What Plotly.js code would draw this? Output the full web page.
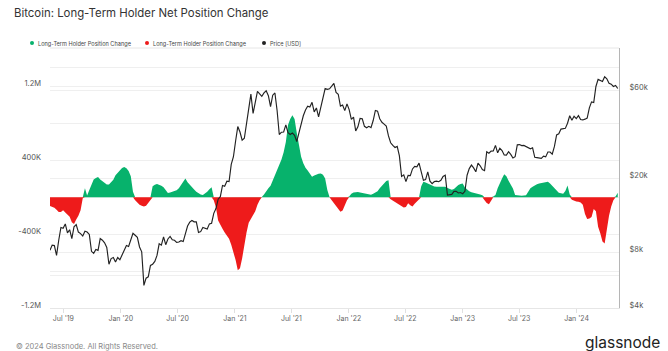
<!DOCTYPE html>
<html>
<head>
<meta charset="utf-8">
<script src="https://cdn.plot.ly/plotly-3.0.1.min.js"></script>
<style>html,body{margin:0;padding:0;background:#fff;}#chart{width:668px;height:351px;}</style>
</head>
<body>
<div id="chart"></div>
<script>
// Weekly samples starting 2019-05-19
const startDate = '2019-05-19';
const sampleCount = 261;

// Long-Term Holder net position change (thousands)
const lthChangeK = [
-95,-105,-112,-135,-160,-160,-140,-165,-185,-210,
-270,-290,-240,-200,-140,-10,100,20,80,140,
195,210,220,195,175,160,140,140,165,190,
240,270,295,318,328,315,285,230,60,-30,
-60,-80,-90,-100,-90,-60,-30,120,138,144,
138,125,110,80,48,52,60,68,78,100,
140,180,205,165,135,110,85,60,42,32,
26,42,62,88,110,-30,-110,-250,-300,-340,
-380,-410,-450,-515,-590,-680,-790,-770,-660,-500,
-380,-275,-230,-190,-150,-80,-30,5,30,70,
100,125,180,240,296,340,410,490,600,784,
850,890,850,700,545,440,370,320,290,255,
224,238,250,255,258,245,205,80,5,-30,
-60,-90,-125,-155,-142,-90,-30,10,40,52,
58,58,52,47,40,33,28,28,40,52,
65,100,130,160,178,185,-20,-35,-45,-58,
-75,-95,-110,-105,-65,-85,-100,-70,-45,-20,
120,168,160,150,135,122,118,115,115,115,
115,114,102,90,82,90,115,135,145,150,
108,85,65,55,50,47,42,32,22,-30,
-60,-75,-35,10,25,100,160,205,250,230,
180,140,95,25,20,18,18,20,22,60,
100,115,130,143,150,155,158,164,170,150,
125,100,70,50,45,40,70,130,30,-25,
-38,-45,-48,-55,-80,-180,-235,-230,-212,-125,
-150,-318,-390,-480,-500,-340,-200,-100,-30,10,
50
];

// BTC price in USD (weekly)
const priceUSD = [
8200,8750,8700,7700,9300,10900,10800,11400,10200,10600,
9500,11000,11300,10300,10100,9800,10400,10300,10000,8100,
7900,8300,8200,9500,9300,9000,8500,6900,7400,7500,
7100,7500,7300,7800,8200,8700,8600,9300,10150,9900,
9650,8550,8050,5300,5800,5900,6800,6900,7150,7700,
8900,8750,9700,8800,9450,9750,9350,9300,9050,9100,
9250,9150,9950,11100,11650,11900,11700,11700,10250,10350,
10900,10750,10700,11400,11500,13000,13800,15500,16000,18400,
18200,19400,19300,23900,26300,32000,38300,35800,32300,33100,
39200,48900,57400,45100,51200,59300,57600,55800,58200,59800,
56200,49100,56600,58200,46800,34700,35700,35800,39100,35500,
34700,35300,34300,31800,35400,39900,43800,47100,49300,48800,
51800,46000,48300,43200,48200,54900,61500,60900,61300,63300,
65500,58600,57300,49400,50100,46700,50800,47300,41900,43100,
36300,38200,42400,42200,38400,37700,38400,37800,41300,46800,
46400,42200,40400,39500,38500,34100,31300,30300,29500,29900,
26600,20600,21000,19300,20850,20800,22600,23300,23200,24300,
21500,19600,19800,21800,19400,18800,19300,19400,19270,19600,
20600,20900,16300,16300,16450,17100,17100,16750,16850,16600,
17100,20900,22700,23700,22900,21800,24300,23500,22400,22100,
28000,27500,28200,28300,30300,27600,29200,28400,26900,26850,
28000,27100,25900,26300,30500,30600,30200,30300,29800,29300,
29050,29400,26100,26000,25900,25800,26500,26250,27900,27900,
27150,29900,34500,35000,37100,37400,37450,39900,43800,41400,
43600,42300,43900,41800,41600,42000,42600,48300,52100,51700,
63100,68900,68300,67200,71300,69400,65700,64900,63100,63900,
61500
];

// Axis ticks
const xTickVals = ['2019-07-01','2020-01-01','2020-07-01','2021-01-01','2021-07-01','2022-01-01','2022-07-01','2023-01-01','2023-07-01','2024-01-01'];
const xTickText = ["Jul '19","Jan '20","Jul '20","Jan '21","Jul '21","Jan '22","Jul '22","Jan '23","Jul '23","Jan '24"];
const yTickVals = [-1200000,-800000,-400000,0,400000,800000,1200000];
const yTickText = ['-1.2M','','-400K','','400K','','1.2M'];
const y2TickVals = [4000,6000,8000,20000,60000,80000];
const y2TickText = ['$4k','','$8k','$20k','$60k',''];

const legendNames = ['Long-Term Holder Position Change','Long-Term Holder Position Change','Price [USD]'];

// build dates
const dates = [];
const d0 = new Date(startDate + 'T00:00:00Z');
for (let i = 0; i < sampleCount; i++) {
  const d = new Date(d0.getTime() + i * 7 * 86400000);
  dates.push(d.toISOString().slice(0,10));
}
const lth = lthChangeK.map(v => v * 1000);
const pos = lth.map(v => v > 0 ? v : 0);
const neg = lth.map(v => v < 0 ? v : 0);

const GREEN = '#07b26c';
const RED = '#ee1b1b';
const BLACK = '#222222';

const traces = [
  {x: dates, y: pos, type: 'scatter', mode: 'lines', line: {width: 0, color: GREEN}, fill: 'tozeroy', fillcolor: GREEN, yaxis: 'y', hoverinfo: 'skip', showlegend: false},
  {x: dates, y: neg, type: 'scatter', mode: 'lines', line: {width: 0, color: RED}, fill: 'tozeroy', fillcolor: RED, yaxis: 'y', hoverinfo: 'skip', showlegend: false},
  {x: dates, y: priceUSD, type: 'scatter', mode: 'lines', line: {width: 1.15, color: BLACK}, yaxis: 'y2', showlegend: false}
];

// pixel helpers (plot area 50..619 x 48..308)
const L = 50, R = 619, T = 48, B = 308;
const px = p => (p - L) / (R - L);
const py = p => (B - p) / (B - T);

const legendFont = {family: 'Inter, sans-serif', size: 5.6, color: '#444'};
const legendItems = [
  {dot: 32, color: GREEN, name: legendNames[0]},
  {dot: 147, color: RED, name: legendNames[1]},
  {dot: 264, color: BLACK, name: legendNames[2]}
];
const shapes = legendItems.map(it => ({
  type: 'circle', xref: 'paper', yref: 'paper',
  x0: px(it.dot - 2), x1: px(it.dot + 2), y0: py(43 + 2), y1: py(43 - 2),
  fillcolor: it.color, line: {width: 0}
}));
shapes.push({type: 'line', xref: 'paper', yref: 'paper', x0: 0, x1: 1, y0: 1, y1: 1, line: {color: '#e6e6e6', width: 1}});

const annotations = legendItems.map(it => ({
  xref: 'paper', yref: 'paper', x: px(it.dot + 4), y: py(43), xanchor: 'left', yanchor: 'middle',
  text: it.name, showarrow: false, font: legendFont
}));
annotations.push({xref: 'paper', yref: 'paper', x: px(14), y: py(346.5), xanchor: 'left', yanchor: 'middle',
  text: '© 2024 Glassnode. All Rights Reserved.', showarrow: false, font: {family: 'Inter, sans-serif', size: 7.5, color: '#888'}});
annotations.push({xref: 'paper', yref: 'paper', x: px(662), y: py(342.5), xanchor: 'right', yanchor: 'middle',
  text: 'glassnode', showarrow: false, font: {family: 'Inter, sans-serif', size: 15.5, color: '#222', weight: 400}});

const layout = {
  width: 668, height: 351,
  margin: {l: L, r: 668 - R, t: T, b: 351 - B, pad: 0},
  paper_bgcolor: '#ffffff', plot_bgcolor: '#ffffff',
  showlegend: false,
  title: {text: 'Bitcoin: Long-Term Holder Net Position Change', x: 14/668, xref: 'container', xanchor: 'left',
    y: 1 - 13/351, yref: 'container', yanchor: 'middle', font: {family: 'Inter, sans-serif', size: 11.4, color: '#333'}},
  xaxis: {type: 'date', range: ['2019-05-19', '2024-05-16'], tickvals: xTickVals, ticktext: xTickText,
    showgrid: false, ticks: 'outside', ticklen: 4, tickcolor: '#e0e0e0', showline: true, linecolor: '#e6e6e6', linewidth: 1,
    tickfont: {family: 'Inter, sans-serif', size: 7, color: '#666'}, zeroline: false, fixedrange: true},
  yaxis: {range: [-1200000, 1620000], tickvals: yTickVals, ticktext: yTickText, showgrid: true, gridcolor: '#efefef', gridwidth: 1,
    zeroline: false, ticks: '', ticklabelstandoff: 8, ticklabelshift: -3,
    tickfont: {family: 'Inter, sans-serif', size: 7.5, color: '#555'}, fixedrange: true},
  yaxis2: {type: 'log', overlaying: 'y', side: 'right', range: [Math.log10(4000), 5.008], tickvals: y2TickVals, ticktext: y2TickText,
    showgrid: true, gridcolor: '#efefef', gridwidth: 1, zeroline: false, showline: true, linecolor: '#b5b5b5', linewidth: 1,
    ticks: '', ticklabelstandoff: 8, ticklabelshift: -3,
    tickfont: {family: 'Inter, sans-serif', size: 7.5, color: '#555'}, fixedrange: true},
  shapes: shapes,
  annotations: annotations
};

Plotly.newPlot('chart', traces, layout, {staticPlot: true, displayModeBar: false});
</script>
</body>
</html>
